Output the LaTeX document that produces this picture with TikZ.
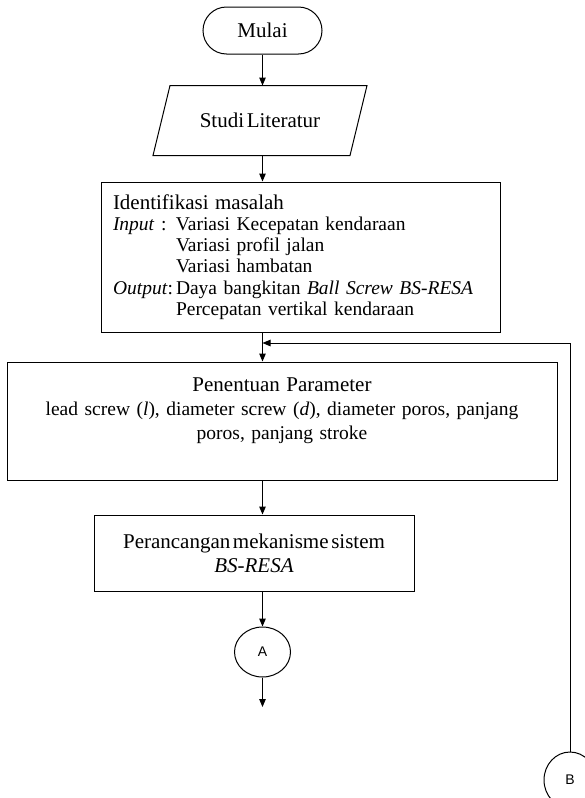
\documentclass[tikz,border=0pt]{standalone}
\usepackage{fontspec}
\setmainfont{Liberation Serif}[WordSpace=0.5]
\newfontfamily\labelsans{Liberation Sans}
\usetikzlibrary{arrows.meta,shapes.geometric}

\begin{document}
\begin{tikzpicture}[x=1pt,y=-1pt,
  line width=1pt,
  box/.style={draw, rectangle, inner sep=0pt},
  arr/.style={-{Triangle[length=8pt,width=6.5pt]}},
  big/.style={font=\fontsize{21}{24}\selectfont},
  conn/.style={draw, ellipse, inner sep=0pt, font=\labelsans\fontsize{14}{16}\selectfont},
]
\useasboundingbox (0,0) rectangle (584,798);

% start terminal
\node[box, rounded corners=23.5pt, minimum width=119pt, minimum height=47pt, big]
  (mulai) at (262.5,30.5) {Mulai};

% input parallelogram
\node[minimum width=180pt, minimum height=69pt, inner sep=0pt, big]
  (lit) at (260,120.5) {Studi Literatur};
\draw ([xshift=-90pt]lit.north) -- ([xshift=107pt]lit.north)
   -- ([xshift=90pt]lit.south) -- ([xshift=-107pt]lit.south) -- cycle;

% problem identification
\node[box, text width=375pt, inner xsep=12pt, minimum height=150pt, align=left,
      font=\fontsize{19.5}{21.3}\selectfont]
  (ident) at (300.5,257) {{\fontsize{21}{21.3}\selectfont Identifikasi masalah}\\
  \makebox[63pt][l]{\textit{Input} :}Variasi Kecepatan kendaraan\\
  \hspace*{63pt}Variasi profil jalan\\
  \hspace*{63pt}Variasi hambatan\\
  \makebox[63pt][l]{\textit{Output}:}Daya bangkitan \textit{Ball Screw BS-RESA}\\
  \hspace*{63pt}Percepatan vertikal kendaraan};

% parameter selection
\node[box, text width=530pt, minimum width=550pt, minimum height=118pt, align=center,
      font=\fontsize{19.5}{24}\selectfont]
  (pen) at (282,421) {{\fontsize{21}{24}\selectfont Penentuan Parameter}\\
  lead screw (\textit{l}), diameter screw (\textit{d}), diameter poros, panjang\\
  poros, panjang stroke\\ \mbox{}};

% mechanism design
\node[box, minimum width=320pt, minimum height=76pt, align=center, big]
  (per) at (254,553) {Perancangan mekanisme sistem\\ \textit{BS-RESA}};

% off-page connectors
\node[conn, minimum width=56pt, minimum height=50pt] (conA) at (262.5,652) {A};
\node[conn, minimum width=52pt, minimum height=56pt] (conB) at (570,780) {B};

\coordinate (join) at (262.5,343);
\coordinate (aend) at (262.5,707);

% connectors
\draw[arr] (mulai.south) -- (mulai.south |- lit.north);
\draw[arr] (mulai.south |- lit.south) -- (mulai.south |- ident.north);
\draw[arr] (mulai.south |- ident.south) -- (mulai.south |- pen.north);
\draw[arr] (mulai.south |- pen.south) -- (mulai.south |- per.north);
\draw[arr] (mulai.south |- per.south) -- (conA.north);
\draw[arr] (conA.south) -- (aend);
\draw[arr] (conB.north) |- (join);
\end{tikzpicture}
\end{document}
